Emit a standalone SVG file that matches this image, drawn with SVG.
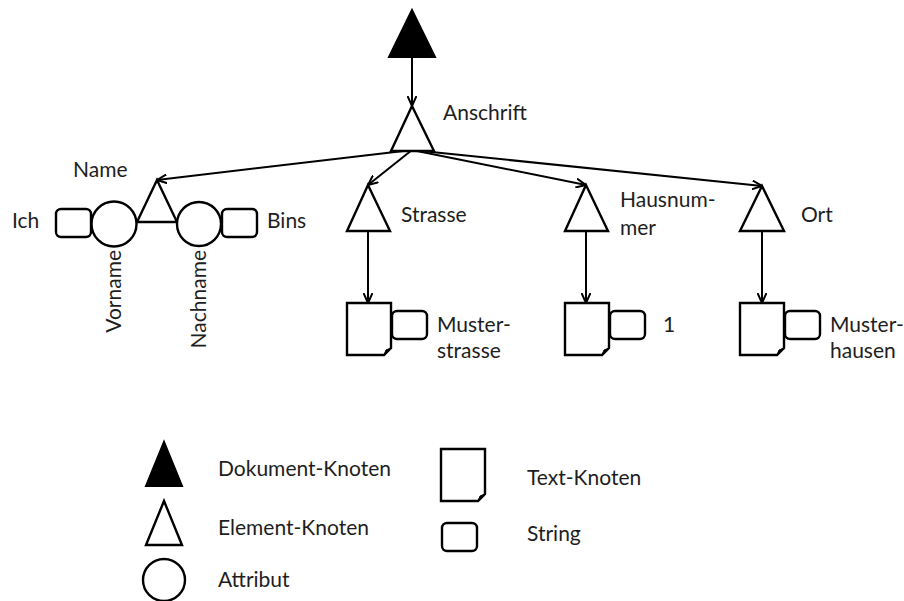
<svg xmlns="http://www.w3.org/2000/svg" width="904" height="601" viewBox="0 0 904 601">
  <style>
    .shape { fill: #fff; stroke: #000; stroke-width: 2.4; stroke-linejoin: miter; }
    .solid { fill: #000; stroke: #000; stroke-width: 2; }
    .edge { fill: none; stroke: #000; stroke-width: 2; }
    .lbl { font-family: Lato, "Liberation Sans", sans-serif; font-size: 21px; fill: #1e1e1e; }
    .fold { fill: #000; stroke: #000; stroke-width: 1; }
  </style>
  <defs>
    <marker id="arrow" viewBox="0 0 10 10" refX="10" refY="5" markerWidth="10" markerHeight="10" markerUnits="userSpaceOnUse" orient="auto">
      <path d="M0,0.5 L10,5 L0,9.5" fill="none" stroke="#000" stroke-width="2"/>
    </marker>
    <!-- text node: page with a folded lower-right corner -->
    <g id="page">
      <path class="shape" d="M0,0 H44 V45 L37,52 H0 Z"/>
      <path class="fold" d="M37,52 L39,47 L44,45 Z"/>
    </g>
    <rect id="str" class="shape" x="0" y="0" width="35" height="28" rx="5"/>
  </defs>

  <!-- connectors -->
  <g id="connectors">
    <line class="edge" x1="412" y1="57" x2="412" y2="106" marker-end="url(#arrow)"/>
    <line class="edge" x1="412" y1="150" x2="157" y2="180" marker-end="url(#arrow)"/>
    <line class="edge" x1="412" y1="150" x2="368" y2="185" marker-end="url(#arrow)"/>
    <line class="edge" x1="412" y1="150" x2="586" y2="185" marker-end="url(#arrow)"/>
    <line class="edge" x1="412" y1="150" x2="762" y2="186" marker-end="url(#arrow)"/>
    <line class="edge" x1="368" y1="231" x2="368" y2="303" marker-end="url(#arrow)"/>
    <line class="edge" x1="586" y1="231" x2="586" y2="303" marker-end="url(#arrow)"/>
    <line class="edge" x1="762" y1="231" x2="762" y2="303" marker-end="url(#arrow)"/>
  </g>

  <!-- document root -->
  <g id="document">
    <polygon class="solid" points="412,10 389,57 435,57"/>
  </g>

  <!-- Anschrift element -->
  <g id="anschrift">
    <polygon class="shape" points="412,106 391,151 434,151"/>
    <text class="lbl" x="443" y="120">Anschrift</text>
  </g>

  <!-- Name element with its two attributes -->
  <g id="name">
    <polygon class="shape" points="157,180 137,222 177,222"/>
    <text class="lbl" x="73" y="177">Name</text>
  </g>
  <g id="vorname">
    <circle class="shape" cx="114" cy="224" r="22.5"/>
    <text class="lbl" transform="translate(121,250) rotate(-90)" text-anchor="end">Vorname</text>
  </g>
  <g id="vorname-value">
    <use href="#str" x="56" y="209"/>
    <text class="lbl" x="12" y="228">Ich</text>
  </g>
  <g id="nachname">
    <circle class="shape" cx="199" cy="224" r="22"/>
    <text class="lbl" transform="translate(206,250) rotate(-90)" text-anchor="end">Nachname</text>
  </g>
  <g id="nachname-value">
    <use href="#str" x="222" y="209"/>
    <text class="lbl" x="267" y="228">Bins</text>
  </g>

  <!-- Strasse -->
  <g id="strasse">
    <polygon class="shape" points="368,185 347,231 390,231"/>
    <text class="lbl" x="401" y="222">Strasse</text>
  </g>
  <g id="strasse-text">
    <use href="#page" x="347" y="303"/>
    <use href="#str" x="392" y="311"/>
    <text class="lbl" x="437" y="332">Muster-</text>
    <text class="lbl" x="437" y="358">strasse</text>
  </g>

  <!-- Hausnummer -->
  <g id="hausnummer">
    <polygon class="shape" points="586,185 565,231 608,231"/>
    <text class="lbl" x="620" y="207">Hausnum-</text>
    <text class="lbl" x="620" y="235">mer</text>
  </g>
  <g id="hausnummer-text">
    <use href="#page" x="565" y="303"/>
    <use href="#str" x="610" y="311"/>
    <text class="lbl" x="663" y="332">1</text>
  </g>

  <!-- Ort -->
  <g id="ort">
    <polygon class="shape" points="762,186 740,231 784,231"/>
    <text class="lbl" x="801" y="222">Ort</text>
  </g>
  <g id="ort-text">
    <use href="#page" x="740" y="303"/>
    <use href="#str" x="785" y="311"/>
    <text class="lbl" x="830" y="332">Muster-</text>
    <text class="lbl" x="830" y="358">hausen</text>
  </g>

  <!-- legend -->
  <g id="legend-document">
    <polygon class="solid" points="164,442 146,486 182,486"/>
    <text class="lbl" x="218" y="476">Dokument-Knoten</text>
  </g>
  <g id="legend-element">
    <polygon class="shape" points="164,501 146,545 182,545"/>
    <text class="lbl" x="218" y="535">Element-Knoten</text>
  </g>
  <g id="legend-attribute">
    <circle class="shape" cx="164" cy="580" r="21"/>
    <text class="lbl" x="218" y="587">Attribut</text>
  </g>
  <g id="legend-text">
    <use href="#page" x="441" y="449"/>
    <text class="lbl" x="527" y="485">Text-Knoten</text>
  </g>
  <g id="legend-string">
    <use href="#str" x="442" y="523"/>
    <text class="lbl" x="527" y="541">String</text>
  </g>
</svg>
